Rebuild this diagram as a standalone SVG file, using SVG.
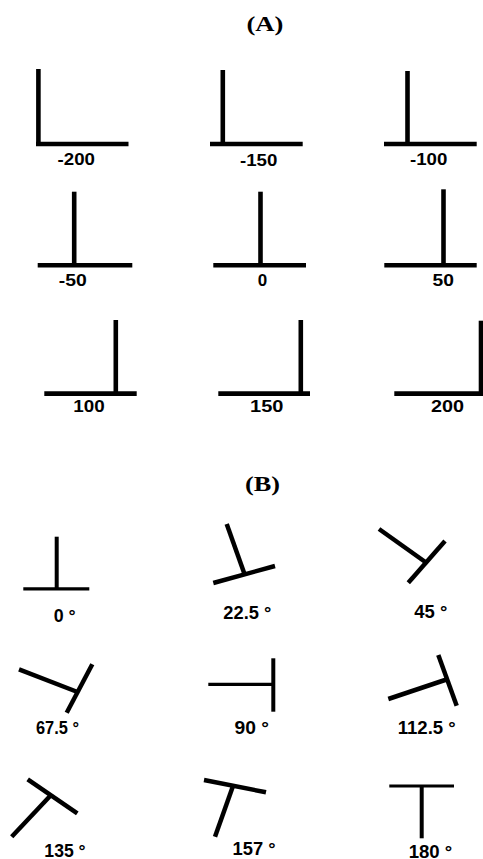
<svg xmlns="http://www.w3.org/2000/svg" width="483" height="859" viewBox="0 0 483 859">
<style>
.bg{fill:#fff}
.a line{stroke:#000;stroke-width:4.6;fill:none}
.b line{stroke:#000;stroke-width:4.5;fill:none;stroke-linecap:butt}
.b line.h{stroke-width:3.2}
.b line.v{stroke-width:4}
.title{font-family:"Liberation Serif","Times New Roman",serif;font-weight:bold;font-size:22px;text-anchor:middle;fill:#000}
.lab{font-family:"Liberation Sans",Arial,sans-serif;font-weight:bold;font-size:17px;text-anchor:middle;fill:#000}
.deg{font-family:"Liberation Sans",Arial,sans-serif;font-weight:bold;font-size:18px;text-anchor:middle;fill:#000}
</style>
<rect class="bg" x="0" y="0" width="483" height="859"/>
<text class="title" x="265" y="31" textLength="37" lengthAdjust="spacingAndGlyphs">(A)</text>
<text class="title" x="262.5" y="490.5" textLength="35" lengthAdjust="spacingAndGlyphs">(B)</text>

<g id="a-m200" class="a"><line x1="38.4" y1="69" x2="38.4" y2="146"/><line x1="36" y1="144" x2="128.5" y2="144"/><text class="lab" x="76.3" y="165" textLength="37.4" lengthAdjust="spacingAndGlyphs">-200</text></g>
<g id="a-m150" class="a"><line x1="222.8" y1="70" x2="222.8" y2="146"/><line x1="210" y1="144" x2="302.7" y2="144"/><text class="lab" x="258.7" y="166" textLength="37.4" lengthAdjust="spacingAndGlyphs">-150</text></g>
<g id="a-m100" class="a"><line x1="407.5" y1="71" x2="407.5" y2="146"/><line x1="384" y1="144" x2="476.7" y2="144"/><text class="lab" x="428.7" y="165" textLength="37.4" lengthAdjust="spacingAndGlyphs">-100</text></g>

<g id="a-m50" class="a"><line x1="74.2" y1="191.7" x2="74.2" y2="267"/><line x1="37.7" y1="265.3" x2="132.3" y2="265.3"/><text class="lab" x="72.7" y="286" textLength="28" lengthAdjust="spacingAndGlyphs">-50</text></g>
<g id="a-0" class="a"><line x1="260.5" y1="191.7" x2="260.5" y2="267"/><line x1="213.3" y1="265.3" x2="306" y2="265.3"/><text class="lab" x="262.5" y="286">0</text></g>
<g id="a-50" class="a"><line x1="443.5" y1="189.3" x2="443.5" y2="267"/><line x1="384.3" y1="265.3" x2="476.7" y2="265.3"/><text class="lab" x="443.3" y="286" textLength="21.4" lengthAdjust="spacingAndGlyphs">50</text></g>

<g id="a-100" class="a"><line x1="115.8" y1="320" x2="115.8" y2="395.5"/><line x1="44.3" y1="393.6" x2="136.7" y2="393.6"/><text class="lab" x="89" y="412.3" textLength="31.4" lengthAdjust="spacingAndGlyphs">100</text></g>
<g id="a-150" class="a"><line x1="300.8" y1="320" x2="300.8" y2="395.5"/><line x1="218.3" y1="393.6" x2="310" y2="393.6"/><text class="lab" x="266.7" y="412.3" textLength="33.4" lengthAdjust="spacingAndGlyphs">150</text></g>
<g id="a-200" class="a"><line x1="481" y1="320.7" x2="481" y2="395.5"/><line x1="394.3" y1="393.6" x2="483" y2="393.6"/><text class="lab" x="447.5" y="412.3" textLength="33" lengthAdjust="spacingAndGlyphs">200</text></g>

<g id="b-0" class="b"><line class="v" x1="56.7" y1="536.7" x2="56.7" y2="588"/><line class="h" x1="23.3" y1="588.8" x2="89.3" y2="588.8"/><text class="deg" x="64.7" y="621.5" textLength="22" lengthAdjust="spacingAndGlyphs">0 °</text></g>
<g id="b-22" class="b"><line x1="226.7" y1="524" x2="244.5" y2="574"/><line x1="213.3" y1="583" x2="275" y2="566"/><text class="deg" x="247.3" y="619" textLength="48" lengthAdjust="spacingAndGlyphs">22.5 °</text></g>
<g id="b-45" class="b"><line x1="379" y1="529" x2="426" y2="562.5"/><line x1="445" y1="541" x2="408.3" y2="582.7"/><text class="deg" x="430.8" y="617.7" textLength="33" lengthAdjust="spacingAndGlyphs">45 °</text></g>

<g id="b-67" class="b"><line x1="19" y1="669.3" x2="77.5" y2="692"/><line x1="92.3" y1="664.3" x2="66.7" y2="712.7"/><text class="deg" x="57.5" y="734" textLength="43" lengthAdjust="spacingAndGlyphs">67.5 °</text></g>
<g id="b-90" class="b"><line class="h" x1="208.3" y1="684.3" x2="273.3" y2="684.3"/><line class="v" x1="273.3" y1="658.3" x2="273.3" y2="711.7"/><text class="deg" x="251.7" y="734" textLength="34.5" lengthAdjust="spacingAndGlyphs">90 °</text></g>
<g id="b-112" class="b"><line x1="388.3" y1="699" x2="446.5" y2="679.5"/><line x1="438.3" y1="655" x2="456.7" y2="705.7"/><text class="deg" x="426.7" y="734" textLength="58" lengthAdjust="spacingAndGlyphs">112.5 °</text></g>

<g id="b-135" class="b"><line x1="11.7" y1="836.7" x2="51.5" y2="794.5"/><line x1="27.7" y1="779.3" x2="77.3" y2="813.3"/><text class="deg" x="65" y="857.3" textLength="41.3" lengthAdjust="spacingAndGlyphs">135 °</text></g>
<g id="b-157" class="b"><line x1="215" y1="836.7" x2="233" y2="786"/><line x1="204" y1="780" x2="266" y2="792.3"/><text class="deg" x="254" y="855" textLength="43" lengthAdjust="spacingAndGlyphs">157 °</text></g>
<g id="b-180" class="b"><line class="h" x1="389.3" y1="786" x2="454" y2="786"/><line class="v" x1="421.7" y1="786" x2="421.7" y2="838.3"/><text class="deg" x="430.5" y="858.3" textLength="43.6" lengthAdjust="spacingAndGlyphs">180 °</text></g>
</svg>
